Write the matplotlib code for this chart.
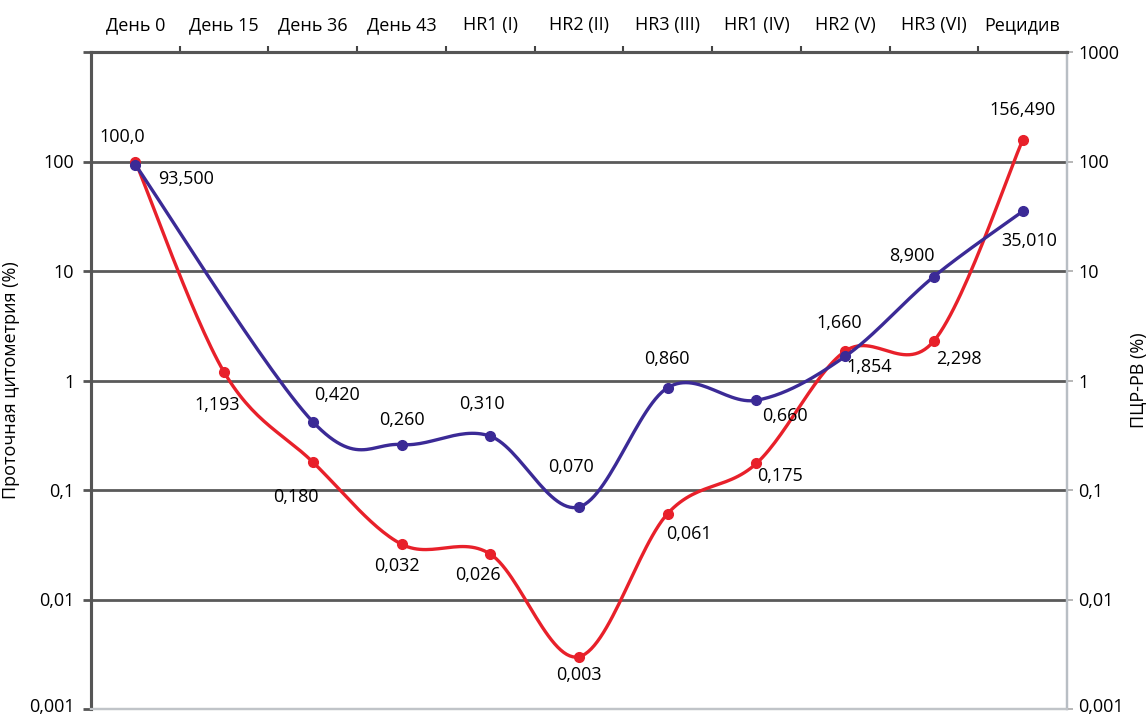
import numpy as np
import matplotlib
matplotlib.use("Agg")
import matplotlib.pyplot as plt
from matplotlib.ticker import FixedLocator, NullLocator
from matplotlib.transforms import ScaledTranslation

plt.rcParams['font.family'] = ['Open Sans', 'DejaVu Sans']

categories = ["День 0", "День 15", "День 36", "День 43", "HR1 (I)", "HR2 (II)",
              "HR3 (III)", "HR1 (IV)", "HR2 (V)", "HR3 (VI)", "Рецидив"]

# red series: every time point
red_idx = [0, 1, 2, 3, 4, 5, 6, 7, 8, 9, 10]
red_vals = [100.0, 1.193, 0.180, 0.032, 0.026, 0.003, 0.061, 0.175, 1.854, 2.298, 156.490]
red_text = ["100,0", "1,193", "0,180", "0,032", "0,026", "0,003", "0,061", "0,175",
            "1,854", "2,298", "156,490"]

# blue series: no measurement at day 15
blue_idx = [0, 2, 3, 4, 5, 6, 7, 8, 9, 10]
blue_vals = [93.500, 0.420, 0.260, 0.310, 0.070, 0.860, 0.660, 1.660, 8.900, 35.010]
blue_text = ["93,500", "0,420", "0,260", "0,310", "0,070", "0,860", "0,660", "1,660",
             "8,900", "35,010"]

y_ticks = [0.001, 0.01, 0.1, 1, 10, 100, 1000]
y_left_labels = ["0,001", "0,01", "0,1", "1", "10", "100", ""]
y_right_labels = ["0,001", "0,01", "0,1", "1", "10", "100", "1000"]

RED = "#e8202a"
BLUE = "#3b2a96"
FS = 13

W, H = 1146, 715
fig = plt.figure(figsize=(W / 100, H / 100), dpi=100)
ax = fig.add_axes([91 / W, 1 - 709 / H, (1067 - 91) / W, (709 - 52) / H])
ax.set_yscale("log")
ax.set_ylim(0.001, 1000)
ax.set_xlim(-0.5, len(categories) - 0.5)

# pixel scale of one category step and one decade, used to shape the spline
px_x = (1067 - 91) / len(categories)
px_y = (709 - 52) / 6.0


def smooth(xs, ys, n=30):
    """Cardinal (Catmull-Rom) curve through points in x / log10(y) space."""
    px = np.asarray(xs, float) * px_x
    py = np.log10(np.asarray(ys, float)) * px_y
    pts = np.column_stack([px, py])
    ext = np.vstack([pts[0], pts, pts[-1]])
    out = []
    for i in range(len(pts) - 1):
        p0, p1, p2, p3 = ext[i], ext[i + 1], ext[i + 2], ext[i + 3]
        c1 = p1 + (p2 - p0) / 6.0
        c2 = p2 - (p3 - p1) / 6.0
        t = np.linspace(0, 1, n)[:, None]
        seg = ((1 - t) ** 3) * p1 + 3 * ((1 - t) ** 2) * t * c1 + 3 * (1 - t) * t ** 2 * c2 + t ** 3 * p2
        out.append(seg if i == 0 else seg[1:])
    c = np.vstack(out)
    return c[:, 0] / px_x, 10 ** (c[:, 1] / px_y)


# horizontal grid lines
for v in y_ticks[1:-1]:
    ax.axhline(v, color="#5a5a5a", lw=2.0, zorder=1)

rx, ry = smooth(red_idx, red_vals)
bx, by = smooth(blue_idx, blue_vals)
ax.plot(rx, ry, color=RED, lw=2.4, zorder=3, solid_capstyle="round")
ax.plot(red_idx, red_vals, "o", color=RED, ms=7, zorder=4)
ax.plot(bx, by, color=BLUE, lw=2.4, zorder=5, solid_capstyle="round")
ax.plot(blue_idx, blue_vals, "o", color=BLUE, ms=7, zorder=6)

# value labels (offsets in pixels)
red_off = [(-13, 25), (-7, -33), (-17, -35), (-5, -22), (-12, -21), (0, -18),
           (21, -20), (24, -13), (24, -16), (25, -18), (0, 30)]
blue_off = [(51, -14), (24, 27), (0, 25), (-8, 32), (-8, 40), (-1, 29), (28, -16),
            (-6, 33), (-22, 21), (7, -30)]
for i, v, t, o in zip(red_idx, red_vals, red_text, red_off):
    ax.annotate(t, (i, v), xytext=o, textcoords="offset pixels",
                ha="center", va="center", fontsize=FS, color="black", zorder=7)
for i, v, t, o in zip(blue_idx, blue_vals, blue_text, blue_off):
    ax.annotate(t, (i, v), xytext=o, textcoords="offset pixels",
                ha="center", va="center", fontsize=FS, color="black", zorder=7)

# category axis on top, boundary ticks
ax.xaxis.set_ticks_position("top")
ax.xaxis.set_major_locator(FixedLocator(np.arange(len(categories))))
ax.set_xticklabels(categories, fontsize=FS)
ax.xaxis.set_minor_locator(FixedLocator(np.arange(0.5, len(categories) - 0.5, 1.0)))
ax.tick_params(axis="x", which="major", length=0, pad=13)
ax.tick_params(axis="x", which="minor", length=4, width=1.5, color="#444444", direction="out")

ax.yaxis.set_major_locator(FixedLocator(y_ticks))
ax.yaxis.set_minor_locator(NullLocator())
ax.set_yticklabels(y_left_labels, fontsize=FS)
ax.tick_params(axis="y", length=6, width=2, color="#555555", pad=6)
ax.set_ylabel("Проточная цитометрия (%)", fontsize=FS, labelpad=6)

ax2 = ax.twinx()
ax2.set_yscale("log")
ax2.set_ylim(0.001, 1000)
ax2.yaxis.set_major_locator(FixedLocator(y_ticks))
ax2.yaxis.set_minor_locator(NullLocator())
ax2.set_yticklabels(y_right_labels, fontsize=FS)
ax2.tick_params(axis="y", length=4, width=1.2, color="#aaaaaa", pad=4)
ax2.set_ylabel("ПЦР-РВ (%)", fontsize=FS, labelpad=4)

# keep the lowest tick labels inside the canvas
lift = ScaledTranslation(0, 4 / 100, fig.dpi_scale_trans)
for lab in (ax.get_yticklabels()[0], ax2.get_yticklabels()[0]):
    lab.set_transform(lab.get_transform() + lift)

for a in (ax, ax2):
    a.spines["top"].set_color("#555555")
    a.spines["top"].set_linewidth(2.2)
    a.spines["left"].set_color("#555555")
    a.spines["left"].set_linewidth(2.2)
    a.spines["right"].set_color("#b8bec4")
    a.spines["right"].set_linewidth(1.6)
    a.spines["bottom"].set_color("#c0c4c8")
    a.spines["bottom"].set_linewidth(1.6)

fig.savefig("out.png", dpi=100)
